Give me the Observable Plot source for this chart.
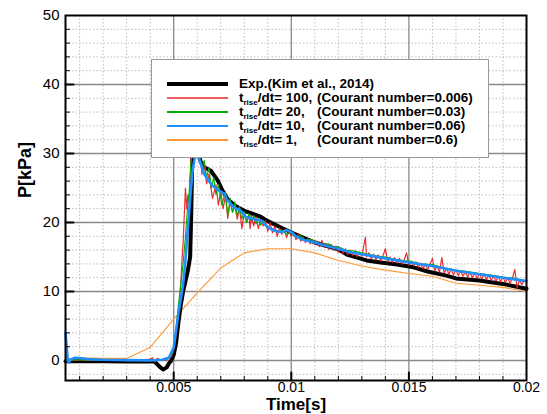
<!DOCTYPE html>
<html>
<head>
<meta charset="utf-8">
<script src="https://cdn.jsdelivr.net/npm/d3@7"></script>
<script src="https://cdn.jsdelivr.net/npm/@observablehq/plot@0.6"></script>
<style>
  html, body { margin: 0; padding: 0; background: #fff; }
  body { font-family: "Liberation Sans", Arial, Helvetica, sans-serif; }
  #wrap { position: relative; width: 547px; height: 414px; }
  #legend { position: absolute; left: 151px; top: 59px; width: 338px; height: 99px;
            background: #fff; border: 1px solid #999; box-sizing: border-box; }
  .row { position: absolute; left: 0; height: 14px; width: 100%; }
  .sw { position: absolute; left: 15px; width: 61px; }
  .lab { position: absolute; left: 87px; top: -1px; font-weight: bold; font-size: 13.5px; white-space: nowrap; color: #000; line-height: 16px; }
  .lab2 { position: absolute; left: 165px; top: -1px; font-weight: bold; font-size: 13.5px; white-space: nowrap; color: #000; line-height: 16px; }
  .lab sub { font-size: 8px; vertical-align: -3px; line-height: 0; }
</style>
</head>
<body>
<div id="wrap"></div>
<script>
// ---------------- data ----------------
const xTicks = [0.005, 0.01, 0.015, 0.02];
const yTicks = [0, 10, 20, 30, 40, 50];
const xMajorGrid = [0.005, 0.01, 0.015];
const yMajorGrid = [10, 20, 30, 40];
const xMinorGrid = [0.001,0.002,0.003,0.004,0.006,0.007,0.008,0.009,0.011,0.012,0.013,0.014,0.016,0.017,0.018,0.019];
const yMinorGrid = [-2,2,4,6,8,12,14,16,18,22,24,26,28,32,34,36,38,42,44,46,48];

const seriesNames = [
  "Exp.(Kim et al., 2014)",
  "t_rise/dt= 100, (Courant number=0.006)",
  "t_rise/dt= 20,   (Courant number=0.03)",
  "t_rise/dt= 10,   (Courant number=0.06)",
  "t_rise/dt= 1,     (Courant number=0.6)"
];

// Experiment (black)
const expData = [[0.0004,-0.1],[0.001,-0.1],[0.002,-0.1],[0.003,-0.15],[0.004,-0.1],[0.0042,-0.2],[0.0044,-0.9],[0.00455,-1.3],[0.0047,-1.0],[0.0048,-0.4],[0.0049,0],[0.005,0.8],[0.0051,2.5],[0.0052,5.5],[0.0053,8],[0.0054,10],[0.0055,11.5],[0.0056,13],[0.0057,15],[0.00575,22],[0.0058,31],[0.0059,31.5],[0.006,30.5],[0.00616,28.7],[0.0063,28],[0.00658,27.5],[0.00687,26.1],[0.00708,24.6],[0.00729,23.4],[0.00757,22.5],[0.008,21.7],[0.0084,21.2],[0.00871,20.8],[0.009,20.2],[0.0096,19.2],[0.0101,18.4],[0.011,17.1],[0.012,16.1],[0.0124,15.3],[0.0132,14.5],[0.0138,14.2],[0.0145,13.9],[0.0152,13.5],[0.0158,12.9],[0.0166,12.3],[0.017,11.9],[0.018,11.6],[0.019,11.1],[0.02,10.4]];

// t_rise/dt = 100 (red)
const red100 = [[0.0004,0],[0.001,0.05],[0.002,0],[0.003,0],[0.0039,0.05],[0.0041,0.4],[0.0042,-0.2],[0.0043,0.3],[0.0045,0],[0.0047,0.1],[0.0049,0.5],[0.005,1.5],[0.0051,3.5],[0.0052,7],[0.0053,11],[0.00535,14.5],[0.0054,17],[0.00545,21],[0.0055,25],[0.00555,22],[0.0056,24],[0.00565,22.5],[0.0057,26],[0.00575,30.5],[0.0059,31],[0.006,29.5],[0.00615,29],[0.0062,27],[0.0063,28.5],[0.0064,25.6],[0.0065,27],[0.00665,23.5],[0.0068,25.5],[0.0069,22.5],[0.007,24.6],[0.0071,22],[0.0072,23.8],[0.0073,20.6],[0.0074,23],[0.0075,21.5],[0.0076,22.5],[0.0077,20.5],[0.0078,22],[0.0079,19.1],[0.008,21.5],[0.0081,20],[0.0082,21.2],[0.00825,19.1],[0.0083,21],[0.0084,19.5],[0.0085,20.8],[0.0086,19.1],[0.0087,20.5],[0.0088,19.5],[0.0089,20.3],[0.009,18.7],[0.0091,20],[0.0092,18.5],[0.0093,19.5],[0.0094,18],[0.0095,19.2],[0.0096,18.3],[0.0097,19],[0.0098,17.8],[0.0099,18.8],[0.01,18],[0.0101,18.6],[0.0102,17.5],[0.0103,18.3],[0.0104,17.3],[0.0105,17.9],[0.0106,17.1],[0.0107,17.7],[0.0108,16.9],[0.0109,17.5],[0.011,16.8],[0.0111,17.3],[0.0112,16.5],[0.0113,17.4],[0.0114,16.4],[0.0115,16.9],[0.0116,16.1],[0.0117,16.8],[0.0118,16.0],[0.0119,16.6],[0.012,15.7],[0.0121,16.3],[0.0122,15.5],[0.0123,16.2],[0.0124,15.3],[0.0125,16.0],[0.0126,15.2],[0.0127,15.9],[0.0128,15.0],[0.0129,15.7],[0.013,15.1],[0.01315,17.9],[0.0132,15.0],[0.0133,15.6],[0.0134,14.7],[0.0135,15.4],[0.0136,14.6],[0.0137,15.3],[0.0138,14.4],[0.0139,15.2],[0.014,16.2],[0.0141,14.3],[0.0142,15.0],[0.0143,14.2],[0.0144,14.9],[0.0145,14.1],[0.0146,14.8],[0.0147,13.9],[0.0148,14.6],[0.0149,15.6],[0.015,13.8],[0.0151,14.4],[0.0152,13.7],[0.0153,14.3],[0.0154,13.5],[0.0155,14.1],[0.0156,13.3],[0.0157,14.0],[0.0158,13.2],[0.0159,13.9],[0.016,14.8],[0.0161,13.0],[0.0162,13.7],[0.0163,12.8],[0.0164,14.9],[0.0165,12.6],[0.0166,13.4],[0.0167,12.5],[0.0168,13.3],[0.0169,12.4],[0.017,13.1],[0.0171,12.3],[0.0172,13.0],[0.0173,12.2],[0.0174,12.9],[0.0175,12.1],[0.0176,12.8],[0.0177,12.0],[0.0178,12.7],[0.0179,11.9],[0.018,12.6],[0.0181,11.8],[0.0182,12.5],[0.0183,11.7],[0.0184,12.4],[0.0185,11.6],[0.0186,12.3],[0.0187,11.5],[0.0188,12.2],[0.0189,11.4],[0.019,12.1],[0.0191,11.3],[0.0192,12.0],[0.0193,11.2],[0.0194,11.9],[0.0195,13.2],[0.0196,10.5],[0.0197,11.7],[0.0198,11.0],[0.0199,11.6],[0.02,11.3]];

// t_rise/dt = 20 (green)
const green20 = [[0.0004,0],[0.001,0.1],[0.002,0.05],[0.003,0],[0.004,0],[0.0045,0.1],[0.0049,0.6],[0.005,2],[0.0051,4.5],[0.0052,8],[0.0053,11],[0.0054,14],[0.00545,16],[0.0055,18],[0.00559,22.2],[0.00565,24],[0.00573,28.5],[0.0058,30.5],[0.006,30.5],[0.0061,29.5],[0.0062,28],[0.0063,29],[0.0064,26.5],[0.0065,28],[0.0066,25],[0.0067,26.5],[0.0068,24],[0.0069,25.5],[0.00705,22.5],[0.0072,24.5],[0.0073,21],[0.0074,23.5],[0.0075,21.5],[0.0076,23],[0.0077,21],[0.0078,22.3],[0.0079,20.5],[0.008,21.6],[0.0081,20],[0.0082,21.3],[0.0083,20.2],[0.0084,21],[0.0085,19.8],[0.0086,20.6],[0.0087,19.6],[0.0088,20.3],[0.009,19.3],[0.0092,19],[0.0094,18.6],[0.0096,18.9],[0.0098,18.3],[0.01,18.5],[0.0102,17.9],[0.0104,18.1],[0.0106,17.4],[0.0108,17.6],[0.011,17.2],[0.0113,16.8],[0.0116,16.9],[0.0118,16.4],[0.012,16.5],[0.0123,16.0],[0.0126,15.9],[0.013,15.6],[0.0135,15.2],[0.014,15.0],[0.0145,14.6],[0.015,14.4],[0.0155,14.0],[0.016,13.9],[0.0165,13.4],[0.017,13.1],[0.0175,12.9],[0.018,12.6],[0.0185,12.4],[0.019,12.1],[0.0195,11.9],[0.02,11.5]];

// t_rise/dt = 10 (blue)
const blue10 = [[0.0004,4],[0.00045,2],[0.0005,0],[0.00055,-0.3],[0.0006,0.1],[0.0008,0.4],[0.001,0.35],[0.0013,0.2],[0.002,0.1],[0.003,0.05],[0.004,0],[0.0045,0.1],[0.0048,0.4],[0.005,1.9],[0.0052,6.8],[0.0054,11],[0.0055,14.5],[0.0056,19],[0.0057,23.5],[0.0058,27.5],[0.0059,29.5],[0.006,30],[0.0061,29],[0.0063,27],[0.00658,25.6],[0.0068,24.9],[0.00694,24.6],[0.00715,24.2],[0.00729,23.2],[0.00757,22.2],[0.00786,21.7],[0.00807,20.8],[0.00836,20.5],[0.00871,20.3],[0.009,19.3],[0.0093,18.8],[0.0096,18.6],[0.0098,18.9],[0.01,18.6],[0.0102,18],[0.0105,17.5],[0.011,17.1],[0.0115,16.6],[0.012,16.2],[0.0125,15.7],[0.013,15.4],[0.014,14.8],[0.015,14.2],[0.016,13.7],[0.017,13.0],[0.018,12.5],[0.019,12.0],[0.02,11.5]];

// t_rise/dt = 1 (orange)
const orange1 = [[0.0004,0.2],[0.001,0.4],[0.002,0.3],[0.003,0.3],[0.004,1.9],[0.005,6.0],[0.006,9.8],[0.007,13.4],[0.008,15.6],[0.009,16.2],[0.01,16.2],[0.011,15.6],[0.012,14.5],[0.013,13.7],[0.014,13.1],[0.015,12.6],[0.016,12.2],[0.017,11.2],[0.018,10.9],[0.019,10.6],[0.02,10.0]];

const colors = ["#000000", "#e8161b", "#00b000", "#1e8fff", "#ff9933"];
const widths = [4, 1.2, 1.1, 2.6, 1.1];

// ---------------- chart ----------------
const xMin = 0.0004, xMax = 0.02, yMin = -2.9, yMax = 50;
const tickShape = { draw(context, l) { context.moveTo(0, 0); context.lineTo(0, -l); } };
const xy = { x: d => d[0], y: d => d[1] };

const chart = Plot.plot({
  width: 547, height: 414,
  marginLeft: 65, marginRight: 21, marginTop: 15, marginBottom: 34,
  style: { fontFamily: "'Liberation Sans', Arial, sans-serif", background: "#fff" },
  x: { domain: [xMin, xMax] },
  y: { domain: [yMin, yMax] },
  marks: [
    Plot.ruleX(xMinorGrid, { stroke: "#bdbdbd", strokeDasharray: "1.5,2", strokeWidth: 1 }),
    Plot.ruleY(yMinorGrid, { stroke: "#bdbdbd", strokeDasharray: "1.5,2", strokeWidth: 1 }),
    Plot.ruleX(xMajorGrid, { stroke: "#8a8a8a", strokeWidth: 1.3 }),
    Plot.ruleY([0, ...yMajorGrid], { stroke: "#8a8a8a", strokeWidth: 1.3 }),
    Plot.line(orange1, { ...xy, stroke: colors[4], strokeWidth: widths[4] }),
    Plot.line(expData, { ...xy, stroke: colors[0], strokeWidth: widths[0], strokeLinejoin: "round" }),
    Plot.line(red100, { ...xy, stroke: colors[1], strokeWidth: widths[1], strokeOpacity: 0.9 }),
    Plot.line(green20, { ...xy, stroke: colors[2], strokeWidth: widths[2] }),
    Plot.line(blue10, { ...xy, stroke: colors[3], strokeWidth: widths[3] }),
    // inward ticks
    Plot.vector(yMajorGrid, { x: xMin, y: d => d, length: 8, rotate: 90, anchor: "start", shape: tickShape, stroke: "#000", strokeWidth: 2 }),
    Plot.vector(yMinorGrid.filter(d => d > 0), { x: xMin, y: d => d, length: 4, rotate: 90, anchor: "start", shape: tickShape, stroke: "#000", strokeWidth: 1 }),
    Plot.vector(xMajorGrid, { x: d => d, y: yMin, length: 8, rotate: 0, anchor: "start", shape: tickShape, stroke: "#000", strokeWidth: 2 }),
    Plot.vector(xMinorGrid, { x: d => d, y: yMin, length: 4, rotate: 0, anchor: "start", shape: tickShape, stroke: "#000", strokeWidth: 1 }),
    Plot.frame({ stroke: "#000", strokeWidth: 2 }),
    Plot.axisY(yTicks, { tickSize: 0, tickPadding: 6, fontSize: 15, label: null, fill: "#000" }),
    Plot.axisX(xTicks, { tickSize: 0, tickPadding: 2, fontSize: 14, label: null, fill: "#000", tickFormat: d => String(d) }),
    Plot.text(["P[kPa]"], { frameAnchor: "left", dx: -40, rotate: -90, text: d => d, fontSize: 18, fontWeight: "bold", fill: "#000" }),
    Plot.text(["Time[s]"], { frameAnchor: "bottom", dy: 29, lineAnchor: "bottom", text: d => d, fontSize: 17, fontWeight: "bold", fill: "#000" })
  ]
});

const wrap = document.getElementById("wrap");
wrap.appendChild(chart);

// ---------------- legend ----------------
const legend = document.createElement("div");
legend.id = "legend";
const rowTops = [17, 31, 45, 59, 73];
seriesNames.forEach((name, i) => {
  const row = document.createElement("div");
  row.className = "row";
  row.style.top = rowTops[i] + "px";
  const sw = document.createElement("div");
  sw.className = "sw";
  sw.style.height = widths[i] + "px";
  sw.style.top = (7 - widths[i] / 2) + "px";
  sw.style.background = colors[i];
  if (i === 1) sw.style.opacity = 0.7;
  row.appendChild(sw);
  const lab = document.createElement("div");
  lab.className = "lab";
  if (name.startsWith("t_rise")) {
    const rest = name.slice(6);
    const idx = rest.indexOf("(");
    lab.innerHTML = "t<sub>rise</sub>" + rest.slice(0, idx).trim();
    const lab2 = document.createElement("div");
    lab2.className = "lab2";
    lab2.textContent = rest.slice(idx);
    row.appendChild(lab2);
  } else {
    lab.textContent = name;
  }
  row.appendChild(lab);
  legend.appendChild(row);
});
wrap.appendChild(legend);
</script>
</body>
</html>
